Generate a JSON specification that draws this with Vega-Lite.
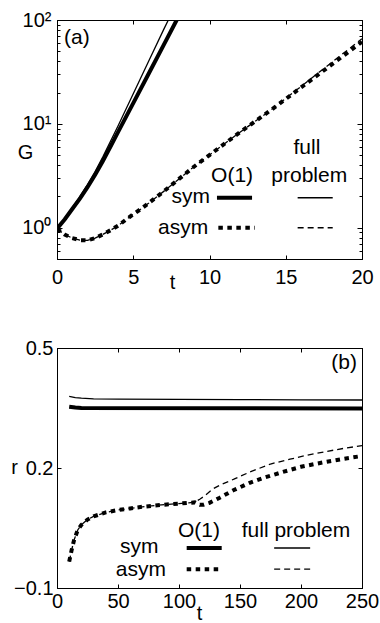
{
  "$schema": "https://vega.github.io/schema/vega-lite/v6.json",
  "padding": {"left": 10, "top": 9, "right": 0, "bottom": 0},
  "background": "white",
  "spacing": 43,
  "config": {
    "font": "Liberation Sans",
    "view": {"stroke": "black", "strokeWidth": 1},
    "mark": {"color": "black"},
    "axis": {"grid": false, "domainColor": "black", "tickColor": "black", "labelColor": "black", "titleColor": "black", "labelFont": "Liberation Sans", "titleFont": "Liberation Sans", "labelFontSize": 20, "titleFontSize": 20, "titleFontWeight": "normal", "tickSize": -4, "titleAngle": 0, "labelFlush": false, "labelOverlap": false, "titleAlign": "center", "titleBaseline": "middle"},
    "text": {"font": "Liberation Sans", "fontSize": 21, "color": "black", "baseline": "alphabetic"}
  },
  "datasets": {
    "a": [
      {"t": 0, "G": 0.977, "s": "sym O(1)"}, {"t": 0.5, "G": 1.202, "s": "sym O(1)"}, {"t": 1, "G": 1.514, "s": "sym O(1)"}, {"t": 1.5, "G": 1.905, "s": "sym O(1)"}, {"t": 2, "G": 2.455, "s": "sym O(1)"}, {"t": 2.5, "G": 3.236, "s": "sym O(1)"}, {"t": 3, "G": 4.365, "s": "sym O(1)"}, {"t": 3.5, "G": 6.026, "s": "sym O(1)"}, {"t": 4, "G": 8.318, "s": "sym O(1)"}, {"t": 5, "G": 15.85, "s": "sym O(1)"}, {"t": 6, "G": 30.2, "s": "sym O(1)"}, {"t": 7, "G": 57.54, "s": "sym O(1)"}, {"t": 7.85, "G": 100, "s": "sym O(1)"},
      {"t": 0, "G": 0.977, "s": "sym full"}, {"t": 0.5, "G": 1.216, "s": "sym full"}, {"t": 1, "G": 1.549, "s": "sym full"}, {"t": 1.5, "G": 1.995, "s": "sym full"}, {"t": 2, "G": 2.6, "s": "sym full"}, {"t": 2.5, "G": 3.467, "s": "sym full"}, {"t": 3, "G": 4.786, "s": "sym full"}, {"t": 3.5, "G": 6.761, "s": "sym full"}, {"t": 4, "G": 9.55, "s": "sym full"}, {"t": 5, "G": 19.5, "s": "sym full"}, {"t": 6, "G": 39.81, "s": "sym full"}, {"t": 7, "G": 81.28, "s": "sym full"}, {"t": 7.3, "G": 100, "s": "sym full"},
      {"t": 0, "G": 0.977, "s": "asym O(1)"}, {"t": 0.5, "G": 0.861, "s": "asym O(1)"}, {"t": 1, "G": 0.794, "s": "asym O(1)"}, {"t": 1.5, "G": 0.759, "s": "asym O(1)"}, {"t": 2, "G": 0.755, "s": "asym O(1)"}, {"t": 2.5, "G": 0.794, "s": "asym O(1)"}, {"t": 3, "G": 0.861, "s": "asym O(1)"}, {"t": 3.5, "G": 0.944, "s": "asym O(1)"}, {"t": 4, "G": 1.047, "s": "asym O(1)"}, {"t": 4.5, "G": 1.189, "s": "asym O(1)"}, {"t": 5, "G": 1.349, "s": "asym O(1)"}, {"t": 5.5, "G": 1.514, "s": "asym O(1)"}, {"t": 6, "G": 1.718, "s": "asym O(1)"}, {"t": 7, "G": 2.239, "s": "asym O(1)"}, {"t": 8, "G": 2.951, "s": "asym O(1)"}, {"t": 9, "G": 3.89, "s": "asym O(1)"}, {"t": 10, "G": 5.012, "s": "asym O(1)"}, {"t": 12, "G": 8.318, "s": "asym O(1)"}, {"t": 14, "G": 13.49, "s": "asym O(1)"}, {"t": 16, "G": 22.39, "s": "asym O(1)"}, {"t": 18, "G": 37.15, "s": "asym O(1)"}, {"t": 20, "G": 61.66, "s": "asym O(1)"},
      {"t": 0, "G": 0.977, "s": "asym full"}, {"t": 0.5, "G": 0.861, "s": "asym full"}, {"t": 1, "G": 0.794, "s": "asym full"}, {"t": 1.5, "G": 0.759, "s": "asym full"}, {"t": 2, "G": 0.755, "s": "asym full"}, {"t": 2.5, "G": 0.794, "s": "asym full"}, {"t": 3, "G": 0.861, "s": "asym full"}, {"t": 3.5, "G": 0.944, "s": "asym full"}, {"t": 4, "G": 1.047, "s": "asym full"}, {"t": 4.5, "G": 1.189, "s": "asym full"}, {"t": 5, "G": 1.349, "s": "asym full"}, {"t": 5.5, "G": 1.514, "s": "asym full"}, {"t": 6, "G": 1.718, "s": "asym full"}, {"t": 7, "G": 2.239, "s": "asym full"}, {"t": 8, "G": 2.951, "s": "asym full"}, {"t": 9, "G": 3.89, "s": "asym full"}, {"t": 10, "G": 5.012, "s": "asym full"}, {"t": 12, "G": 8.318, "s": "asym full"}, {"t": 14, "G": 13.49, "s": "asym full"}, {"t": 16, "G": 22.91, "s": "asym full"}, {"t": 18, "G": 38.9, "s": "asym full"}, {"t": 20, "G": 66.07, "s": "asym full"}
    ],
    "b": [
      {"t": 10, "r": 0.353, "s": "sym O(1)"}, {"t": 15, "r": 0.351, "s": "sym O(1)"}, {"t": 20, "r": 0.35, "s": "sym O(1)"}, {"t": 250, "r": 0.349, "s": "sym O(1)"},
      {"t": 10, "r": 0.379, "s": "sym full"}, {"t": 15, "r": 0.376, "s": "sym full"}, {"t": 20, "r": 0.3745, "s": "sym full"}, {"t": 30, "r": 0.373, "s": "sym full"}, {"t": 50, "r": 0.372, "s": "sym full"}, {"t": 100, "r": 0.3715, "s": "sym full"}, {"t": 150, "r": 0.371, "s": "sym full"}, {"t": 200, "r": 0.3705, "s": "sym full"}, {"t": 250, "r": 0.37, "s": "sym full"},
      {"t": 10, "r": -0.034, "s": "asym O(1)"}, {"t": 12, "r": -0.005, "s": "asym O(1)"}, {"t": 14, "r": 0.02, "s": "asym O(1)"}, {"t": 17, "r": 0.045, "s": "asym O(1)"}, {"t": 20, "r": 0.058, "s": "asym O(1)"}, {"t": 25, "r": 0.071, "s": "asym O(1)"}, {"t": 30, "r": 0.079, "s": "asym O(1)"}, {"t": 40, "r": 0.089, "s": "asym O(1)"}, {"t": 50, "r": 0.095, "s": "asym O(1)"}, {"t": 60, "r": 0.099, "s": "asym O(1)"}, {"t": 70, "r": 0.103, "s": "asym O(1)"}, {"t": 80, "r": 0.106, "s": "asym O(1)"}, {"t": 90, "r": 0.109, "s": "asym O(1)"}, {"t": 100, "r": 0.111, "s": "asym O(1)"}, {"t": 108, "r": 0.113, "s": "asym O(1)"}, {"t": 113, "r": 0.114, "s": "asym O(1)"}, {"t": 117, "r": 0.108, "s": "asym O(1)"}, {"t": 120, "r": 0.108, "s": "asym O(1)"}, {"t": 125, "r": 0.113, "s": "asym O(1)"}, {"t": 133, "r": 0.125, "s": "asym O(1)"}, {"t": 145, "r": 0.145, "s": "asym O(1)"}, {"t": 158, "r": 0.163, "s": "asym O(1)"}, {"t": 170, "r": 0.176, "s": "asym O(1)"}, {"t": 185, "r": 0.19, "s": "asym O(1)"}, {"t": 200, "r": 0.203, "s": "asym O(1)"}, {"t": 218, "r": 0.214, "s": "asym O(1)"}, {"t": 235, "r": 0.223, "s": "asym O(1)"}, {"t": 250, "r": 0.23, "s": "asym O(1)"},
      {"t": 10, "r": -0.034, "s": "asym full"}, {"t": 12, "r": -0.005, "s": "asym full"}, {"t": 14, "r": 0.02, "s": "asym full"}, {"t": 17, "r": 0.045, "s": "asym full"}, {"t": 20, "r": 0.058, "s": "asym full"}, {"t": 25, "r": 0.071, "s": "asym full"}, {"t": 30, "r": 0.079, "s": "asym full"}, {"t": 40, "r": 0.089, "s": "asym full"}, {"t": 50, "r": 0.095, "s": "asym full"}, {"t": 60, "r": 0.099, "s": "asym full"}, {"t": 70, "r": 0.103, "s": "asym full"}, {"t": 80, "r": 0.106, "s": "asym full"}, {"t": 90, "r": 0.109, "s": "asym full"}, {"t": 100, "r": 0.111, "s": "asym full"}, {"t": 108, "r": 0.113, "s": "asym full"}, {"t": 113, "r": 0.115, "s": "asym full"}, {"t": 117, "r": 0.122, "s": "asym full"}, {"t": 120, "r": 0.128, "s": "asym full"}, {"t": 128, "r": 0.148, "s": "asym full"}, {"t": 134, "r": 0.158, "s": "asym full"}, {"t": 145, "r": 0.172, "s": "asym full"}, {"t": 158, "r": 0.19, "s": "asym full"}, {"t": 175, "r": 0.21, "s": "asym full"}, {"t": 191, "r": 0.222, "s": "asym full"}, {"t": 205, "r": 0.232, "s": "asym full"}, {"t": 221, "r": 0.2415, "s": "asym full"}, {"t": 235, "r": 0.249, "s": "asym full"}, {"t": 250, "r": 0.256, "s": "asym full"}
    ]
  },
  "vconcat": [
    {
      "width": 305,
      "height": 239,
      "resolve": {"axis": {"x": "independent", "y": "independent"}},
      "layer": [
        {
          "data": {"name": "a"},
          "transform": [{"filter": "datum.s == 'asym O(1)'"}],
          "mark": {"type": "line", "clip": true, "strokeCap": "butt", "strokeWidth": 4, "strokeDash": [4.5, 4.5]},
          "encoding": {
            "x": {"field": "t", "type": "quantitative", "scale": {"domain": [0, 20], "nice": false},
                  "axis": {"values": [0, 5, 10, 15, 20], "title": "t", "titleX": 115, "titleY": 23.6, "labelPadding": 12.6}},
            "y": {"field": "G", "type": "quantitative", "scale": {"type": "log", "domain": [0.5, 100], "nice": false},
                  "axis": {"values": [0.5, 0.6, 0.7, 0.8, 0.9, 1, 2, 3, 4, 5, 6, 7, 8, 9, 10, 20, 30, 40, 50, 60, 70, 80, 90, 100],
                           "labelExpr": "datum.value == 1 ? '10⁰' : datum.value == 10 ? '10¹' : datum.value == 100 ? '10²' : ''",
                           "tickSize": {"condition": {"test": "datum.value == 1 || datum.value == 10 || datum.value == 100", "value": -5}, "value": -3},
                           "labelPadding": 11, "title": "G", "titleX": -32, "titleY": 132.7}}
          }
        },
        {
          "data": {"name": "a"},
          "transform": [{"filter": "datum.s == 'asym full'"}],
          "mark": {"type": "line", "clip": true, "strokeCap": "butt", "strokeWidth": 1.3, "strokeDash": [6, 4]},
          "encoding": {
            "x": {"field": "t", "type": "quantitative", "axis": null},
            "y": {"field": "G", "type": "quantitative", "axis": null}
          }
        },
        {
          "data": {"name": "a"},
          "transform": [{"filter": "datum.s == 'sym O(1)'"}],
          "mark": {"type": "line", "clip": true, "strokeCap": "butt", "strokeWidth": 4},
          "encoding": {
            "x": {"field": "t", "type": "quantitative", "axis": null},
            "y": {"field": "G", "type": "quantitative", "axis": null}
          }
        },
        {
          "data": {"name": "a"},
          "transform": [{"filter": "datum.s == 'sym full'"}],
          "mark": {"type": "line", "clip": true, "strokeCap": "butt", "strokeWidth": 1.3},
          "encoding": {
            "x": {"field": "t", "type": "quantitative", "axis": null},
            "y": {"field": "G", "type": "quantitative", "axis": null}
          }
        },
        {
          "data": {"name": "a"},
          "mark": {"type": "point", "opacity": 0},
          "encoding": {
            "x": {"field": "t", "type": "quantitative",
                  "axis": {"orient": "top", "values": [0, 5, 10, 15, 20], "labels": false, "title": null}},
            "y": {"field": "G", "type": "quantitative",
                  "axis": {"orient": "right", "values": [0.5, 0.6, 0.7, 0.8, 0.9, 1, 2, 3, 4, 5, 6, 7, 8, 9, 10, 20, 30, 40, 50, 60, 70, 80, 90, 100], "labels": false, "title": null,
                           "tickSize": {"condition": {"test": "datum.value == 1 || datum.value == 10 || datum.value == 100", "value": -5}, "value": -3}}}
          }
        },
        {"data": {"values": [{}]}, "mark": {"type": "text", "text": "(a)", "align": "left"},
         "encoding": {"x": {"datum": 0.46, "type": "quantitative", "axis": null}, "y": {"datum": 58.4, "type": "quantitative", "axis": null}}},
        {"data": {"values": [{}]}, "mark": {"type": "text", "text": "full", "align": "center"},
         "encoding": {"x": {"datum": 16.39, "type": "quantitative", "axis": null}, "y": {"datum": 5.18, "type": "quantitative", "axis": null}}},
        {"data": {"values": [{}]}, "mark": {"type": "text", "text": "problem", "align": "center"},
         "encoding": {"x": {"datum": 16.54, "type": "quantitative", "axis": null}, "y": {"datum": 2.77, "type": "quantitative", "axis": null}}},
        {"data": {"values": [{}]}, "mark": {"type": "text", "text": "O(1)", "align": "center"},
         "encoding": {"x": {"datum": 11.48, "type": "quantitative", "axis": null}, "y": {"datum": 2.77, "type": "quantitative", "axis": null}}},
        {"data": {"values": [{}]}, "mark": {"type": "text", "text": "sym", "align": "right"},
         "encoding": {"x": {"datum": 10.03, "type": "quantitative", "axis": null}, "y": {"datum": 1.713, "type": "quantitative", "axis": null}}},
        {"data": {"values": [{}]}, "mark": {"type": "text", "text": "asym", "align": "right"},
         "encoding": {"x": {"datum": 9.92, "type": "quantitative", "axis": null}, "y": {"datum": 0.869, "type": "quantitative", "axis": null}}},
        {"data": {"values": [{}]}, "mark": {"type": "rule", "strokeWidth": 4, "strokeCap": "butt"},
         "encoding": {"x": {"datum": 10.49, "type": "quantitative", "axis": null}, "x2": {"datum": 12.79}, "y": {"datum": 1.943, "type": "quantitative", "axis": null}}},
        {"data": {"values": [{}]}, "mark": {"type": "rule", "strokeWidth": 1.3, "strokeCap": "butt"},
         "encoding": {"x": {"datum": 15.78, "type": "quantitative", "axis": null}, "x2": {"datum": 18.08}, "y": {"datum": 1.943, "type": "quantitative", "axis": null}}},
        {"data": {"values": [{}]}, "mark": {"type": "rule", "strokeWidth": 4, "strokeCap": "butt", "strokeDash": [4.5, 4.5]},
         "encoding": {"x": {"datum": 10.58, "type": "quantitative", "axis": null}, "x2": {"datum": 12.98}, "y": {"datum": 1.0, "type": "quantitative", "axis": null}}},
        {"data": {"values": [{}]}, "mark": {"type": "rule", "strokeWidth": 1.3, "strokeCap": "butt", "strokeDash": [6, 4]},
         "encoding": {"x": {"datum": 15.78, "type": "quantitative", "axis": null}, "x2": {"datum": 18.08}, "y": {"datum": 1.0, "type": "quantitative", "axis": null}}}
      ]
    },
    {
      "width": 305,
      "height": 240,
      "resolve": {"axis": {"x": "independent", "y": "independent"}},
      "layer": [
        {
          "data": {"name": "b"},
          "transform": [{"filter": "datum.s == 'asym O(1)'"}],
          "mark": {"type": "line", "clip": true, "strokeCap": "butt", "strokeWidth": 4, "strokeDash": [4.5, 4.5]},
          "encoding": {
            "x": {"field": "t", "type": "quantitative", "scale": {"domain": [0, 250], "nice": false},
                  "axis": {"values": [0, 50, 100, 150, 200, 250], "title": "t", "titleX": 142, "titleY": 25.3, "labelPadding": 7.6}},
            "y": {"field": "r", "type": "quantitative", "scale": {"domain": [-0.1, 0.5], "nice": false, "zero": false},
                  "axis": {"values": [-0.1, 0.2, 0.5], "format": ".1f", "labelPadding": 8, "title": "r", "titleX": -43, "titleY": 119.4}}
          }
        },
        {
          "data": {"name": "b"},
          "transform": [{"filter": "datum.s == 'asym full'"}],
          "mark": {"type": "line", "clip": true, "strokeCap": "butt", "strokeWidth": 1.3, "strokeDash": [6, 4]},
          "encoding": {
            "x": {"field": "t", "type": "quantitative", "axis": null},
            "y": {"field": "r", "type": "quantitative", "axis": null}
          }
        },
        {
          "data": {"name": "b"},
          "transform": [{"filter": "datum.s == 'sym O(1)'"}],
          "mark": {"type": "line", "clip": true, "strokeCap": "butt", "strokeWidth": 4},
          "encoding": {
            "x": {"field": "t", "type": "quantitative", "axis": null},
            "y": {"field": "r", "type": "quantitative", "axis": null}
          }
        },
        {
          "data": {"name": "b"},
          "transform": [{"filter": "datum.s == 'sym full'"}],
          "mark": {"type": "line", "clip": true, "strokeCap": "butt", "strokeWidth": 1.3},
          "encoding": {
            "x": {"field": "t", "type": "quantitative", "axis": null},
            "y": {"field": "r", "type": "quantitative", "axis": null}
          }
        },
        {
          "data": {"name": "b"},
          "mark": {"type": "point", "opacity": 0},
          "encoding": {
            "x": {"field": "t", "type": "quantitative",
                  "axis": {"orient": "top", "values": [0, 50, 100, 150, 200, 250], "labels": false, "title": null}},
            "y": {"field": "r", "type": "quantitative",
                  "axis": {"orient": "right", "values": [-0.1, 0.2, 0.5], "labels": false, "title": null}}
          }
        },
        {"data": {"values": [{}]}, "mark": {"type": "text", "text": "(b)", "align": "right"},
         "encoding": {"x": {"datum": 245.9, "type": "quantitative", "axis": null}, "y": {"datum": 0.4485, "type": "quantitative", "axis": null}}},
        {"data": {"values": [{}]}, "mark": {"type": "text", "text": "O(1)", "align": "center"},
         "encoding": {"x": {"datum": 116.4, "type": "quantitative", "axis": null}, "y": {"datum": 0.027, "type": "quantitative", "axis": null}}},
        {"data": {"values": [{}]}, "mark": {"type": "text", "text": "full problem", "align": "center"},
         "encoding": {"x": {"datum": 195.9, "type": "quantitative", "axis": null}, "y": {"datum": 0.027, "type": "quantitative", "axis": null}}},
        {"data": {"values": [{}]}, "mark": {"type": "text", "text": "sym", "align": "center"},
         "encoding": {"x": {"datum": 67.5, "type": "quantitative", "axis": null}, "y": {"datum": -0.013, "type": "quantitative", "axis": null}}},
        {"data": {"values": [{}]}, "mark": {"type": "text", "text": "asym", "align": "center"},
         "encoding": {"x": {"datum": 68.8, "type": "quantitative", "axis": null}, "y": {"datum": -0.069, "type": "quantitative", "axis": null}}},
        {"data": {"values": [{}]}, "mark": {"type": "rule", "strokeWidth": 4, "strokeCap": "butt"},
         "encoding": {"x": {"datum": 106.3, "type": "quantitative", "axis": null}, "x2": {"datum": 135.0}, "y": {"datum": 0.0, "type": "quantitative", "axis": null}}},
        {"data": {"values": [{}]}, "mark": {"type": "rule", "strokeWidth": 1.3, "strokeCap": "butt"},
         "encoding": {"x": {"datum": 178.0, "type": "quantitative", "axis": null}, "x2": {"datum": 207.5}, "y": {"datum": 0.0, "type": "quantitative", "axis": null}}},
        {"data": {"values": [{}]}, "mark": {"type": "rule", "strokeWidth": 4, "strokeCap": "butt", "strokeDash": [4.5, 4.5]},
         "encoding": {"x": {"datum": 106.3, "type": "quantitative", "axis": null}, "x2": {"datum": 135.0}, "y": {"datum": -0.053, "type": "quantitative", "axis": null}}},
        {"data": {"values": [{}]}, "mark": {"type": "rule", "strokeWidth": 1.3, "strokeCap": "butt", "strokeDash": [6, 4]},
         "encoding": {"x": {"datum": 178.0, "type": "quantitative", "axis": null}, "x2": {"datum": 207.5}, "y": {"datum": -0.053, "type": "quantitative", "axis": null}}}
      ]
    }
  ]
}
